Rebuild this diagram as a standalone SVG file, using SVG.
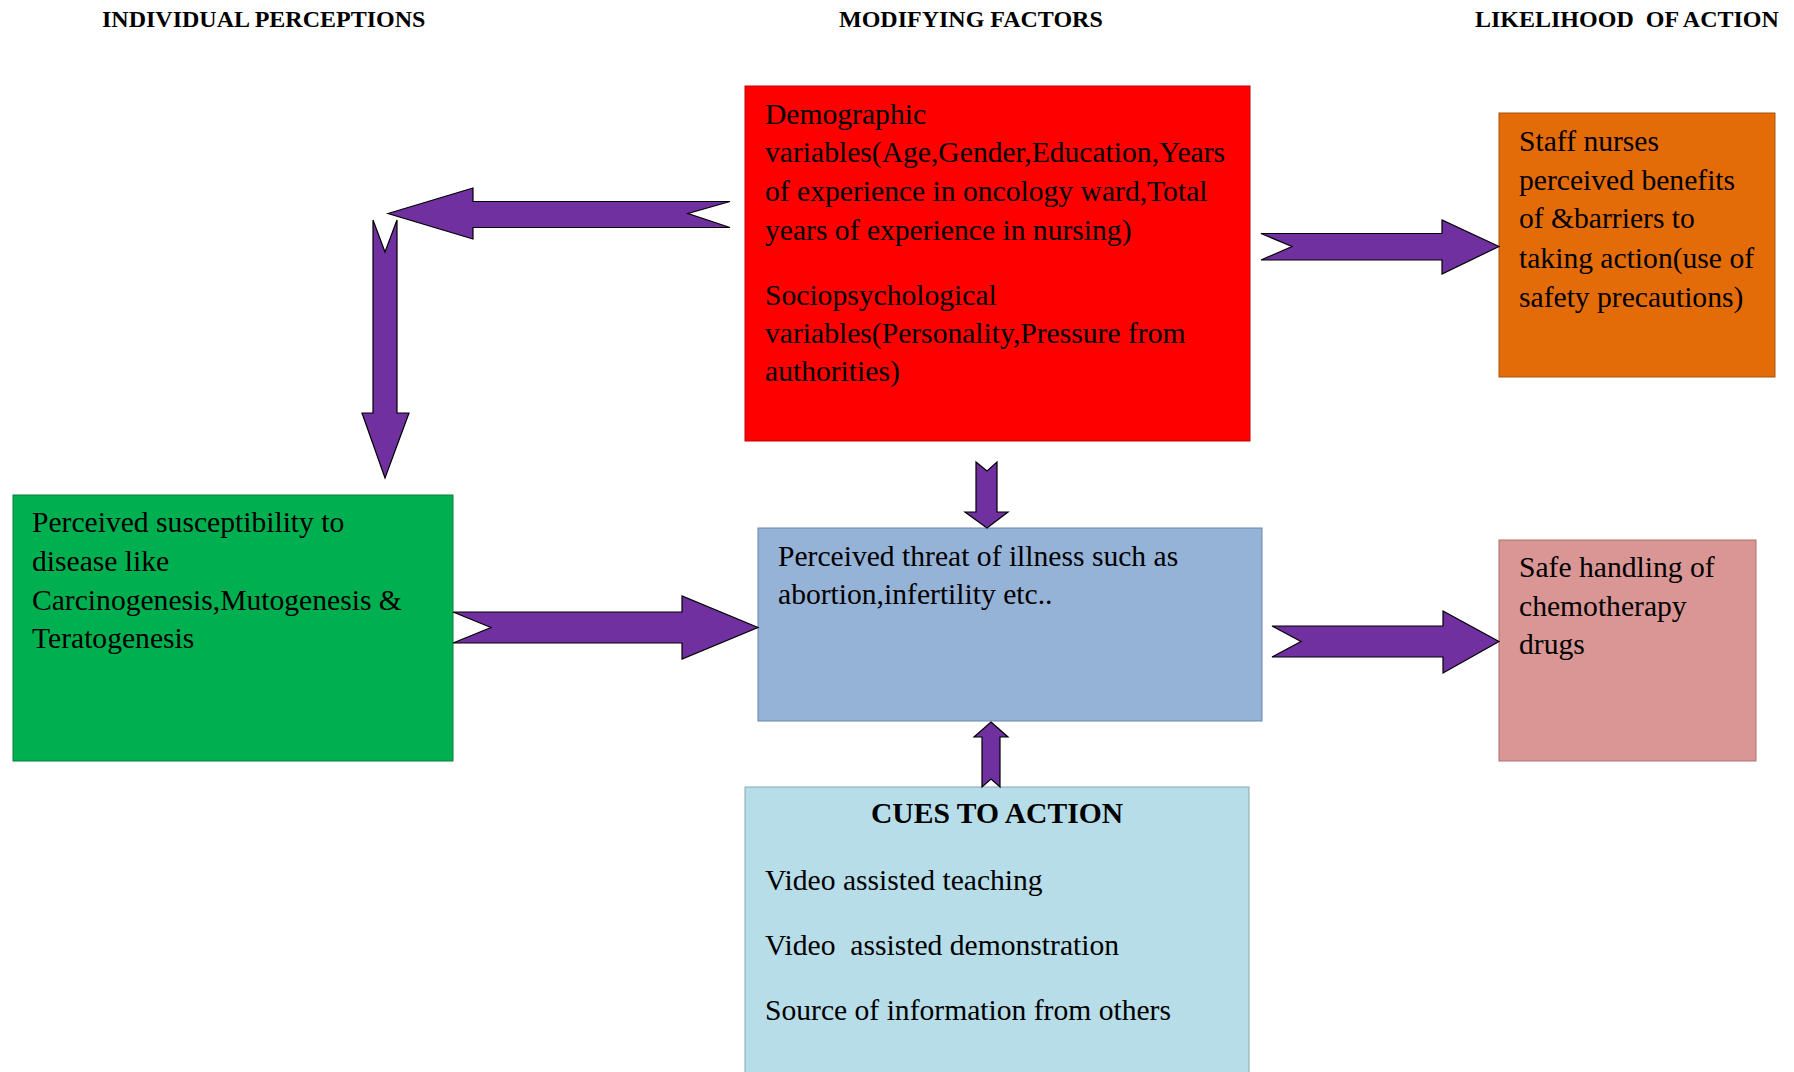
<svg xmlns="http://www.w3.org/2000/svg" width="1794" height="1072" viewBox="0 0 1794 1072">
<style>
text{font-family:"Liberation Serif","Times New Roman",serif;fill:#000;}
.hdr{font-size:24px;font-weight:bold;white-space:pre;}
.t{font-size:29.6px;white-space:pre;}
.b{font-size:29.6px;font-weight:bold;}
.arr{fill:#7030A0;stroke:#000;stroke-width:1.2;stroke-linejoin:miter;}
</style>
<rect width="1794" height="1072" fill="#fff"/>
<g id="headers">
<text class="hdr" x="102" y="27">INDIVIDUAL PERCEPTIONS</text>
<text class="hdr" x="839" y="27">MODIFYING FACTORS</text>
<text class="hdr" x="1475" y="27">LIKELIHOOD  OF ACTION</text>
</g>
<g id="modifying">
<rect x="745" y="86" width="505" height="355" fill="#FF0000" stroke="#C00000" stroke-width="1"/>
<text class="t" x="765" y="124">Demographic</text>
<text class="t" x="765" y="162">variables(Age,Gender,Education,Years</text>
<text class="t" x="765" y="201">of experience in oncology ward,Total</text>
<text class="t" x="765" y="240">years of experience in nursing)</text>
<text class="t" x="765" y="305">Sociopsychological</text>
<text class="t" x="765" y="343">variables(Personality,Pressure from</text>
<text class="t" x="765" y="381">authorities)</text>
</g>
<g id="susceptibility">
<rect x="13" y="495" width="440" height="266" fill="#00B050" stroke="#00803A" stroke-width="1"/>
<text class="t" x="32" y="532">Perceived susceptibility to</text>
<text class="t" x="32" y="571">disease like</text>
<text class="t" x="32" y="610">Carcinogenesis,Mutogenesis &amp;</text>
<text class="t" x="32" y="648">Teratogenesis</text>
</g>
<g id="threat">
<rect x="758" y="528" width="504" height="193" fill="#95B3D7" stroke="#6A86A8" stroke-width="1"/>
<text class="t" x="778" y="566">Perceived threat of illness such as</text>
<text class="t" x="778" y="604">abortion,infertility etc..</text>
</g>
<g id="cues">
<rect x="745" y="787" width="504" height="290" fill="#B7DDE8" stroke="#86A9B3" stroke-width="1"/>
<text class="b" x="997" y="823" text-anchor="middle">CUES TO ACTION</text>
<text class="t" x="765" y="890">Video assisted teaching</text>
<text class="t" x="765" y="955">Video  assisted demonstration</text>
<text class="t" x="765" y="1020">Source of information from others</text>
</g>
<g id="benefits">
<rect x="1499" y="113" width="276" height="264" fill="#E36C09" stroke="#A9530E" stroke-width="1"/>
<text class="t" x="1519" y="151">Staff nurses</text>
<text class="t" x="1519" y="190">perceived benefits</text>
<text class="t" x="1519" y="228">of &amp;barriers to</text>
<text class="t" x="1519" y="268">taking action(use of</text>
<text class="t" x="1519" y="307">safety precautions)</text>
</g>
<g id="handling">
<rect x="1499" y="540" width="257" height="221" fill="#D99694" stroke="#B0706E" stroke-width="1"/>
<text class="t" x="1519" y="577">Safe handling of</text>
<text class="t" x="1519" y="616">chemotherapy</text>
<text class="t" x="1519" y="654">drugs</text>
</g>
<g id="connectors">
<polygon class="arr" points="388,213.5 473,188 473,201.5 730,201.5 688,213.5 730,227.5 473,227.5 473,239"/>
<polygon class="arr" points="373,220 385,252 397,220 397,413 409,413 385,478 362,413 373,413"/>
<polygon class="arr" points="1261,233.5 1442,233.5 1442,220 1499,246.5 1442,274 1442,260 1261,260 1292,246.5"/>
<polygon class="arr" points="453,612 682,612 682,596 758,627.5 682,659 682,643 453,643 491,627.5"/>
<polygon class="arr" points="976,462 987,471 997,462 997,512 1008,512 987,528 965,512 976,512"/>
<polygon class="arr" points="991,722 1008,737 1000,737 1000,787 991,779 982,787 982,737 974,737"/>
<polygon class="arr" points="1272,626 1443,626 1443,611 1499,641.5 1443,673 1443,657 1272,657 1301,641.5"/>
</g>
</svg>
